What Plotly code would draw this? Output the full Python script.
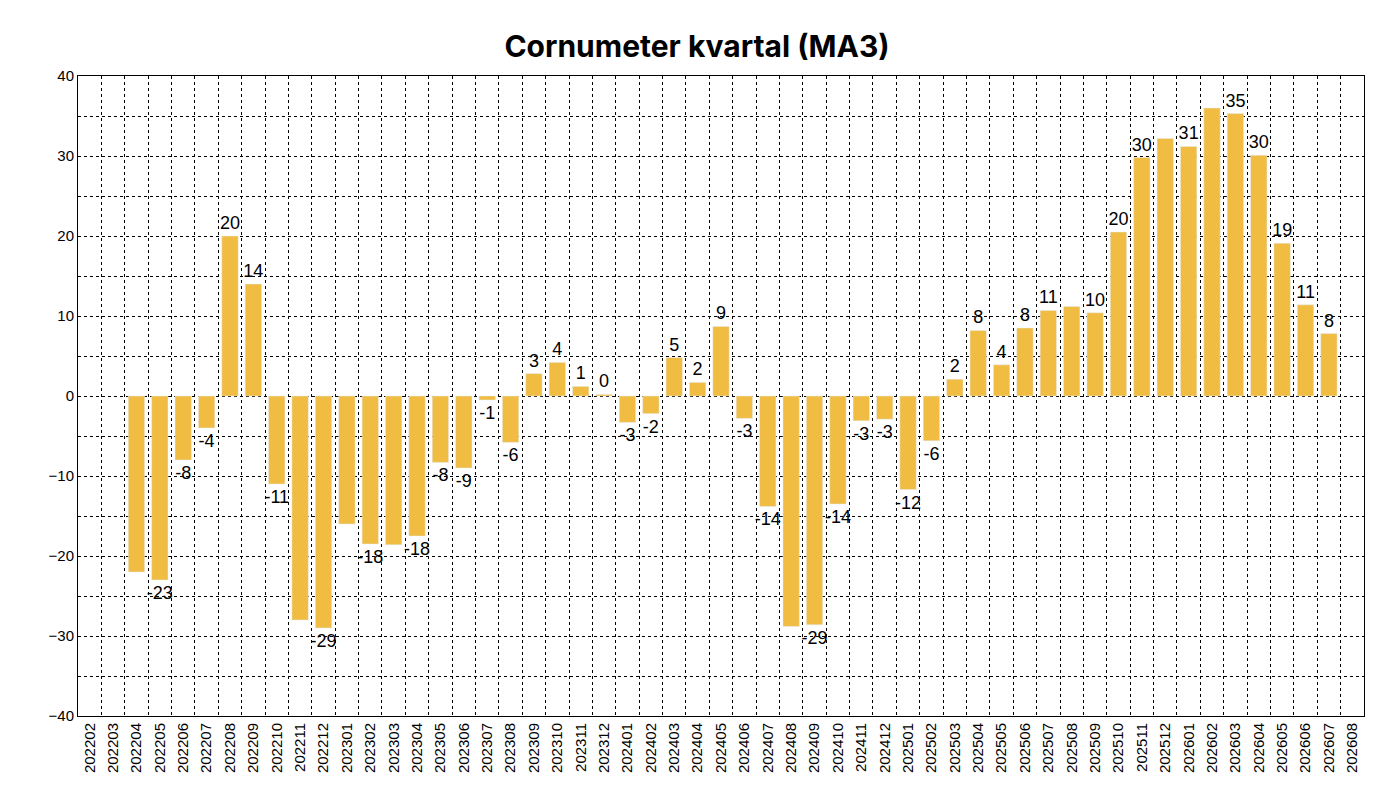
import plotly.graph_objects as go

months = []
for y in range(2022, 2027):
    for m in range(1, 13):
        s = f"{y}{m:02d}"
        if "202202" <= s <= "202608":
            months.append(s)

values = [None, None, -22, -23, -8, -4, 20, 14, -11, -28, -29, -16, -18.5, -18.6, -17.5,
          -8.3, -9, -0.5, -5.8, 2.8, 4.2, 1.2, 0.2, -3.3, -2.2, 4.8, 1.7, 8.7, -2.8, -13.8,
          -28.8, -28.6, -13.5, -3.1, -2.9, -11.7, -5.6, 2.1, 8.2, 3.9, 8.5, 10.7, 11.2, 10.4,
          20.5, 29.8, 32.2, 31.2, 36, 35.3, 30.1, 19.1, 11.4, 7.8, None]
hidden = {"202204", "202211", "202301", "202303", "202408", "202508", "202512", "202602"}
labels = []
for mo, v in zip(months, values):
    if v is None or mo in hidden:
        labels.append("")
    else:
        labels.append(str(int(round(v))))
labels[months.index("202312")] = "0"
labels[months.index("202307")] = "-1"

fig = go.Figure(go.Bar(x=months, y=values, text=labels, textposition="outside",
                       constraintext="none",
                       marker_color="#F0BC42", width=0.7, cliponaxis=False,
                       textfont=dict(size=18, color="black", family="Liberation Sans")))
grid = dict(showgrid=True, gridcolor="black", griddash="dot", gridwidth=1)
fig.update_layout(
    width=1378, height=808, plot_bgcolor="white", paper_bgcolor="white",
    title=dict(text="<b>Cornumeter kvartal (MA3)</b>", x=0.5, y=0.965,
               font=dict(size=30, family="Inter", color="black")),
    margin=dict(l=70, r=22, t=68, b=100), showlegend=False, bargap=0.3,
    font=dict(family="Liberation Sans", size=15, color="black"),
)
fig.update_xaxes(type="category", tickangle=-90, tickson="boundaries", ticks="",
                 showline=True, linecolor="black", mirror=True, **grid)
fig.update_yaxes(range=[-40, 40], dtick=10, showline=True, linecolor="black", mirror=True,
                 zeroline=False, minor=dict(dtick=5, showgrid=True, gridcolor="black", griddash="dot"),
                 **grid)
fig.write_html("out.html")
